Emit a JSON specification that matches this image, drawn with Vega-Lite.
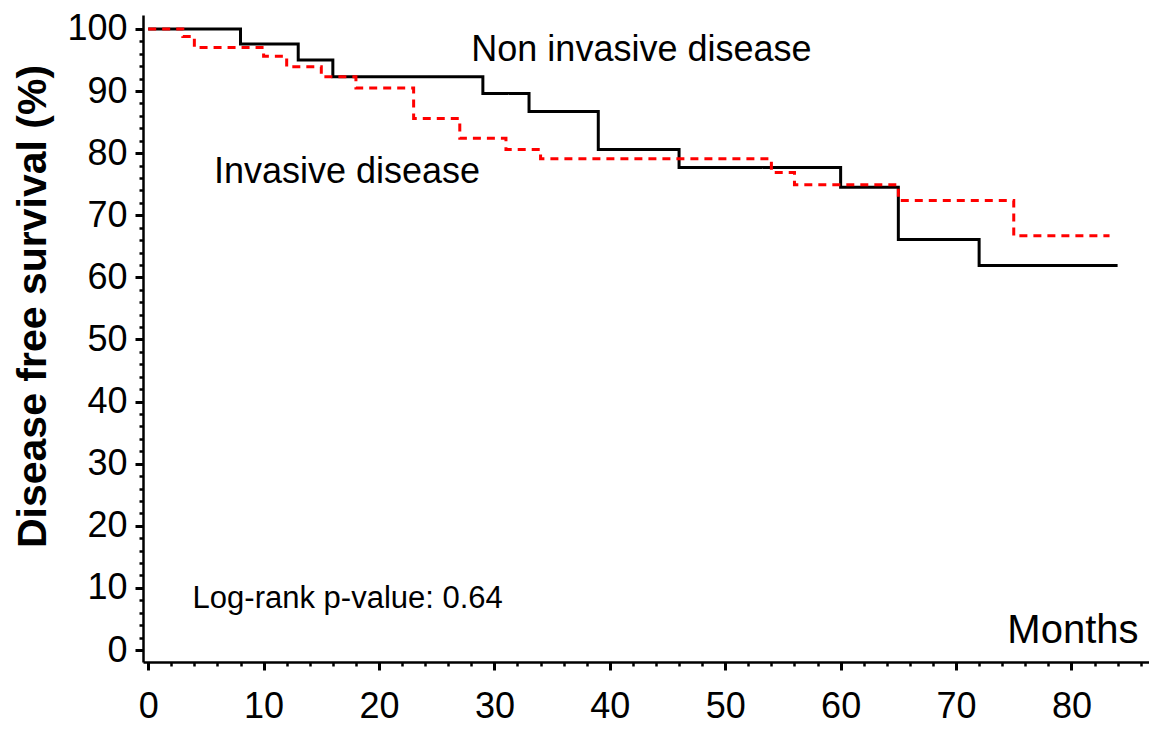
{
  "$schema": "https://vega.github.io/schema/vega-lite/v6.json",
  "autosize": {"type": "none"},
  "padding": {"left": 143, "top": 15, "right": 0, "bottom": 67},
  "width": 1006,
  "height": 647,
  "background": "white",
  "config": {
    "view": {"stroke": null},
    "font": "Liberation Sans",
    "axis": {
      "grid": false,
      "domainColor": "black",
      "domainWidth": 2.5,
      "tickColor": "black",
      "labelColor": "black",
      "titleColor": "black",
      "labelFont": "Liberation Sans",
      "titleFont": "Liberation Sans",
      "labelFontSize": 36,
      "labelOverlap": false,
      "labelFlush": false
    }
  },
  "datasets": {
    "curves": [
      {"group": "Non invasive disease", "month": 0, "dfs": 100},
      {"group": "Non invasive disease", "month": 8, "dfs": 97.6},
      {"group": "Non invasive disease", "month": 13, "dfs": 95.0},
      {"group": "Non invasive disease", "month": 16, "dfs": 92.3},
      {"group": "Non invasive disease", "month": 29, "dfs": 89.6},
      {"group": "Non invasive disease", "month": 33, "dfs": 86.7},
      {"group": "Non invasive disease", "month": 39, "dfs": 80.6},
      {"group": "Non invasive disease", "month": 46, "dfs": 77.7},
      {"group": "Non invasive disease", "month": 60, "dfs": 74.5},
      {"group": "Non invasive disease", "month": 65, "dfs": 66.1},
      {"group": "Non invasive disease", "month": 72, "dfs": 61.9},
      {"group": "Non invasive disease", "month": 84, "dfs": 61.9},
      {"group": "Invasive disease", "month": 0, "dfs": 100},
      {"group": "Invasive disease", "month": 3, "dfs": 98.8},
      {"group": "Invasive disease", "month": 4, "dfs": 97.0},
      {"group": "Invasive disease", "month": 10, "dfs": 95.6},
      {"group": "Invasive disease", "month": 12, "dfs": 93.9},
      {"group": "Invasive disease", "month": 15, "dfs": 92.3},
      {"group": "Invasive disease", "month": 18, "dfs": 90.5},
      {"group": "Invasive disease", "month": 23, "dfs": 85.6},
      {"group": "Invasive disease", "month": 27, "dfs": 82.4},
      {"group": "Invasive disease", "month": 31, "dfs": 80.6},
      {"group": "Invasive disease", "month": 34, "dfs": 79.1},
      {"group": "Invasive disease", "month": 54, "dfs": 76.9},
      {"group": "Invasive disease", "month": 56, "dfs": 74.9},
      {"group": "Invasive disease", "month": 65, "dfs": 72.4},
      {"group": "Invasive disease", "month": 75, "dfs": 66.7},
      {"group": "Invasive disease", "month": 83.3, "dfs": 66.7}
    ],
    "labels": [
      {"text": "Non invasive disease", "month": 28, "dfs": 94.9, "kind": "big"},
      {"text": "Invasive disease", "month": 5.7, "dfs": 75.15, "kind": "big"},
      {"text": "Log-rank p-value: 0.64", "month": 3.85, "dfs": 6.8, "kind": "small"}
    ]
  },
  "layer": [
    {
      "data": {"name": "curves"},
      "mark": {"type": "line", "interpolate": "step-after", "strokeWidth": 3, "strokeCap": "butt", "clip": false},
      "encoding": {
        "x": {
          "field": "month", "type": "quantitative",
          "scale": {"domain": [-0.45, 86.72], "nice": false, "zero": false},
          "axis": {
            "values": [0,2,4,6,8,10,12,14,16,18,20,22,24,26,28,30,32,34,36,38,40,42,44,46,48,50,52,54,56,58,60,62,64,66,68,70,72,74,76,78,80,82,84,86],
            "tickCount": 200,
            "format": "d",
            "labelExpr": "datum.value % 10 === 0 ? datum.label : ''",
            "labelOverlap": false,
            "tickSize": {"condition": {"test": "datum.value % 10 === 0", "value": 8}, "value": 4},
            "tickWidth": {"condition": {"test": "datum.value % 10 === 0", "value": 3}, "value": 2.5},
            "labelPadding": 19,
            "title": "Months",
            "titleFontSize": 40,
            "titleFontWeight": "normal",
            "titleX": 995,
            "titleY": -20,
            "titleAlign": "right",
            "titleBaseline": "alphabetic",
            "titleAnchor": null
          }
        },
        "y": {
          "field": "dfs", "type": "quantitative",
          "scale": {"domain": [-1.93, 102.25], "nice": false, "zero": false},
          "axis": {
            "values": [0,2,4,6,8,10,12,14,16,18,20,22,24,26,28,30,32,34,36,38,40,42,44,46,48,50,52,54,56,58,60,62,64,66,68,70,72,74,76,78,80,82,84,86,88,90,92,94,96,98,100],
            "tickCount": 200,
            "format": "d",
            "labelExpr": "datum.value % 10 === 0 ? datum.label : ''",
            "labelOverlap": false,
            "tickSize": {"condition": {"test": "datum.value % 10 === 0", "value": 8}, "value": 4},
            "tickWidth": {"condition": {"test": "datum.value % 10 === 0", "value": 3}, "value": 2.5},
            "labelPadding": 8,
            "title": "Disease free survival (%)",
            "titleFontSize": 41,
            "titleFontWeight": "bold",
            "titleAngle": 270,
            "titleX": -98,
            "titleY": 291,
            "titleAlign": "center",
            "titleBaseline": "alphabetic",
            "titleAnchor": null
          }
        },
        "color": {
          "field": "group", "type": "nominal",
          "scale": {"domain": ["Non invasive disease", "Invasive disease"], "range": ["#000000", "#ff0000"]},
          "legend": null
        },
        "strokeDash": {
          "field": "group", "type": "nominal",
          "scale": {"domain": ["Non invasive disease", "Invasive disease"], "range": [[1, 0], [8, 6]]},
          "legend": null
        }
      }
    },
    {
      "data": {"name": "labels"},
      "mark": {"type": "text", "align": "left", "baseline": "alphabetic", "font": "Liberation Sans", "color": "black"},
      "encoding": {
        "x": {"field": "month", "type": "quantitative"},
        "y": {"field": "dfs", "type": "quantitative"},
        "text": {"field": "text"},
        "size": {
          "field": "kind", "type": "nominal",
          "scale": {"domain": ["big", "small"], "range": [36, 31]},
          "legend": null
        }
      }
    }
  ]
}
